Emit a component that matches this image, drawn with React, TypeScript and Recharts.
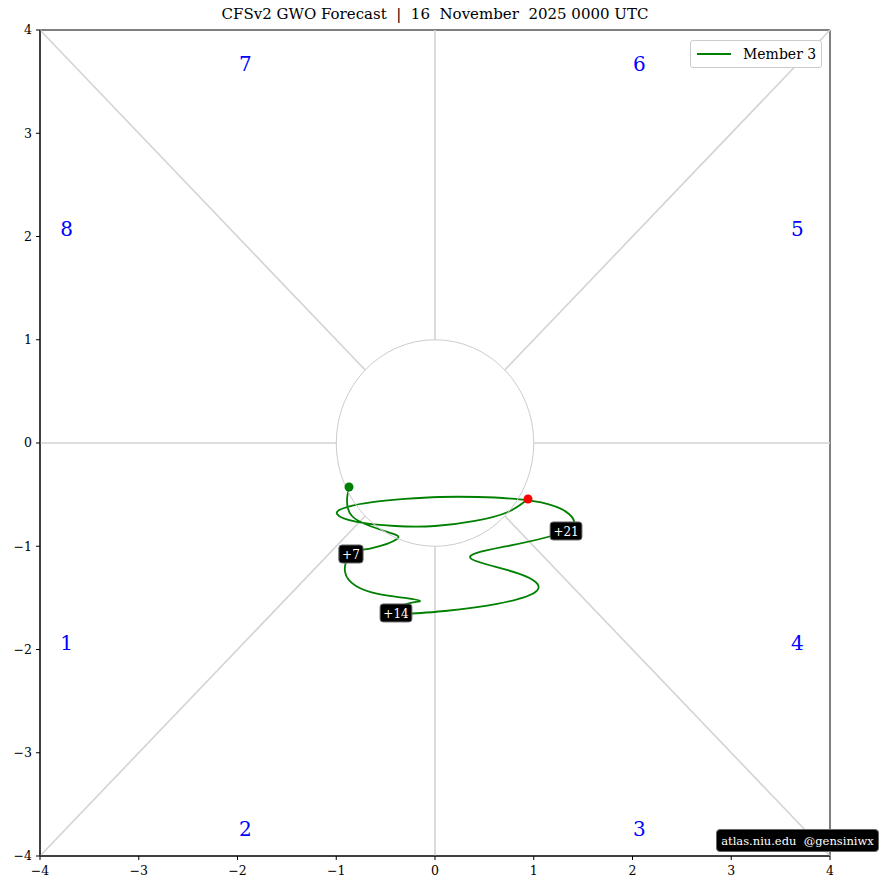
import React from 'react';
import {
  ComposedChart, XAxis, YAxis, Line, Scatter, ReferenceLine, ReferenceArea, ReferenceDot,
} from 'recharts';

const W = 881;
const H = 890;
const MARGIN = { top: 30, right: 51, bottom: 10, left: 10 };
const Y_AXIS_W = 30;
const X_AXIS_H = 24;
const PLOT_W = W - MARGIN.left - MARGIN.right - Y_AXIS_W;
const PLOT_H = H - MARGIN.top - MARGIN.bottom - X_AXIS_H;

const FONT = '"DejaVu Serif", "Liberation Serif", serif';

const axisTicks = [-4, -3, -2, -1, 0, 1, 2, 3, 4];

// Member 3 trajectory (daily)
const trackX = [
  -0.871, -0.891, -0.841, -0.658, -0.446, -0.385, -0.638, -0.851,
  -0.911, -0.8, -0.577, -0.304, -0.152, -0.284, -0.395,
  0.101, 0.628, 1.033, 0.841, 0.365, 0.689, 1.327,
  1.357, 1.144, 0.81, 0.435, 0.051, -0.304, -0.618, -0.891, -0.992,
  -0.79, -0.405, 0.0, 0.405, 0.739, 0.942,
];
const trackY = [
  -0.426, -0.562, -0.707, -0.804, -0.872, -0.93, -1.017, -1.075,
  -1.249, -1.385, -1.462, -1.501, -1.53, -1.559, -1.646,
  -1.627, -1.559, -1.43, -1.262, -1.12, -1.007, -0.852,
  -0.688, -0.591, -0.542, -0.523, -0.523, -0.542, -0.571, -0.62, -0.688,
  -0.765, -0.804, -0.804, -0.755, -0.668, -0.542,
];
const labelDays = [7, 14, 21];

const phaseNames = ['1', '2', '3', '4', '5', '6', '7', '8'];
const phaseX = [-3.73, -1.92, 2.07, 3.67, 3.67, 2.07, -1.92, -3.73];
const phaseY = [-1.94, -3.74, -3.74, -1.94, 2.07, 3.67, 3.67, 2.07];

const trackData = trackX.map((x, i) => ({ x, y: trackY[i] }));
const startPt = [trackData[0]];
const endPt = [trackData[trackData.length - 1]];
const dayLabelData = labelDays.map((d) => ({ x: trackX[d], y: trackY[d], label: '+' + d }));
const phaseData = phaseNames.map((n, i) => ({ x: phaseX[i], y: phaseY[i], label: n }));

const D = 0.7071;
const diagSegments = [
  [{ x: -4, y: -4 }, { x: -D, y: -D }],
  [{ x: 4, y: 4 }, { x: D, y: D }],
  [{ x: -4, y: 4 }, { x: -D, y: D }],
  [{ x: 4, y: -4 }, { x: D, y: -D }],
  [{ x: -4, y: 0 }, { x: -1, y: 0 }],
  [{ x: 1, y: 0 }, { x: 4, y: 0 }],
  [{ x: 0, y: 1 }, { x: 0, y: 4 }],
  [{ x: 0, y: -4 }, { x: 0, y: -1 }],
];

const fmt = (v: number) => (v < 0 ? '\u2212' + Math.abs(v) : String(v));

const DayLabel = (props: any) => {
  const { cx, cy, payload } = props;
  const txt = payload.label as string;
  const w = txt.length * 7.6 + 9;
  const h = 18;
  return (
    <g>
      <rect x={cx - w / 2} y={cy - h / 2} width={w} height={h} rx={3} ry={3} fill="#000" stroke="#666" strokeWidth={1} />
      <text x={cx} y={cy + 1} textAnchor="middle" dominantBaseline="central" fill="#fff" fontSize={12} fontFamily={FONT}>
        {txt}
      </text>
    </g>
  );
};

const PhaseLabel = (props: any) => {
  const { cx, cy, payload } = props;
  return (
    <text x={cx} y={cy} textAnchor="middle" dominantBaseline="central" fill="#0000ff" fontSize={20} fontFamily={FONT}>
      {payload.label}
    </text>
  );
};

const Dot = (color: string) => (props: any) => {
  const { cx, cy } = props;
  return <circle cx={cx} cy={cy} r={4.5} fill={color} />;
};

const UnitCircle = (props: any) => {
  const { cx, cy } = props;
  return <ellipse cx={cx} cy={cy} rx={PLOT_W / 8} ry={PLOT_H / 8} fill="none" stroke="#cccccc" strokeWidth={1} />;
};

export default function App() {
  return (
    <div style={{ position: 'absolute', left: 0, top: 0, width: W, height: H, background: '#fff', fontFamily: FONT }}>
      <div style={{ position: 'absolute', top: 5, left: MARGIN.left + Y_AXIS_W, width: PLOT_W, textAlign: 'center', fontSize: 15, color: '#000', whiteSpace: 'pre' }}>
        {'CFSv2 GWO Forecast  |  16  November  2025 0000 UTC'}
      </div>
      <ComposedChart width={W} height={H} margin={MARGIN}>
        <XAxis
          type="number"
          dataKey="x"
          domain={[-4, 4]}
          ticks={axisTicks}
          allowDataOverflow
          tickFormatter={fmt}
          height={X_AXIS_H}
          tick={{ fontSize: 12.5, fill: '#000', fontFamily: FONT }}
          tickSize={4}
          tickMargin={6}
          axisLine={{ stroke: '#000' }}
          tickLine={{ stroke: '#000' }}
        />
        <YAxis
          type="number"
          dataKey="y"
          domain={[-4, 4]}
          ticks={axisTicks}
          allowDataOverflow
          tickFormatter={fmt}
          width={Y_AXIS_W}
          tick={{ fontSize: 12.5, fill: '#000', fontFamily: FONT }}
          tickSize={4}
          tickMargin={4}
          axisLine={{ stroke: '#000' }}
          tickLine={{ stroke: '#000' }}
        />
        {diagSegments.map((seg, i) => (
          <ReferenceLine key={i} segment={seg} stroke="#d3d3d3" strokeWidth={1.6} />
        ))}
        <ReferenceDot x={0} y={0} r={1} shape={UnitCircle} />
        <ReferenceArea x1={-4} x2={4} y1={-4} y2={4} fill="none" fillOpacity={0} stroke="#000" strokeWidth={1} />
        <Scatter data={phaseData} shape={PhaseLabel} isAnimationActive={false} />
        <Line
          data={trackData}
          dataKey="y"
          type="natural"
          stroke="#008000"
          strokeWidth={1.8}
          dot={false}
          activeDot={false}
          isAnimationActive={false}
        />
        <Scatter data={startPt} shape={Dot('#008000')} isAnimationActive={false} />
        <Scatter data={endPt} shape={Dot('#ff0000')} isAnimationActive={false} />
        <Scatter data={dayLabelData} shape={DayLabel} isAnimationActive={false} />
      </ComposedChart>
      <div style={{
        position: 'absolute', left: 690, top: 40, width: 132, height: 28, border: '1px solid #cccccc', borderRadius: 3,
        background: '#fff', display: 'flex', alignItems: 'center', boxSizing: 'border-box',
      }}>
        <div style={{ marginLeft: 6, width: 34, height: 0, borderTop: '2px solid #008000' }} />
        <div style={{ marginLeft: 12, fontSize: 14, color: '#000' }}>Member 3</div>
      </div>
      <div style={{
        position: 'absolute', left: 716, top: 829, width: 163, height: 23, background: '#000', borderRadius: 4,
        border: '1px solid #666', boxSizing: 'border-box', color: '#fff', fontSize: 11.5, display: 'flex',
        alignItems: 'center', justifyContent: 'center', whiteSpace: 'pre',
      }}>
        {'atlas.niu.edu  @gensiniwx'}
      </div>
    </div>
  );
}
